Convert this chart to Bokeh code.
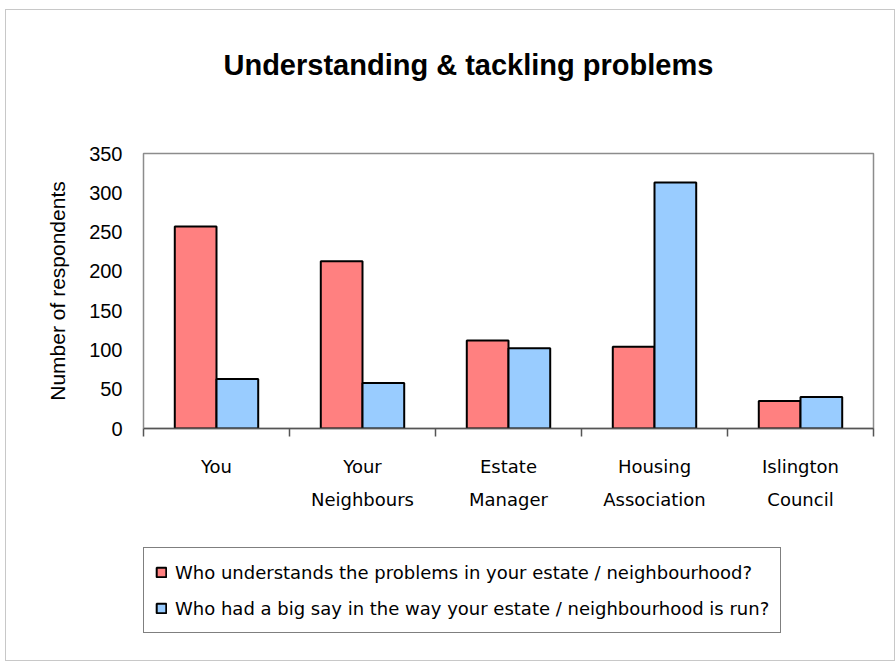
from bokeh.plotting import figure
from bokeh.layouts import column
from bokeh.models import (ColumnDataSource, Range1d, LinearAxis, FixedTicker,
                          Legend, LegendItem, Title)
from bokeh.embed import file_html
from bokeh.resources import INLINE
import numpy as np

categories = ["You", "Your\nNeighbours", "Estate\nManager", "Housing\nAssociation", "Islington\nCouncil"]
understands = [257, 213, 112, 104, 35]
big_say = [63, 58, 102, 313, 40]
series_names = ["Who understands the problems in your estate / neighbourhood?",
                "Who had a big say in the way your estate / neighbourhood is run?"]
y_ticks = [0, 50, 100, 150, 200, 250, 300, 350]
colors = ["#FF8080", "#99CCFF"]

FONT = "Liberation Sans"
FONT2 = "DejaVu Sans"
bar_w = 1 / 3.5
idx = np.arange(len(categories))
src = ColumnDataSource(dict(
    x1=idx + 0.5 - bar_w / 2, x2=idx + 0.5 + bar_w / 2,
    a=understands, b=big_say))

p = figure(width=888, height=530, output_backend="svg", toolbar_location=None,
           x_range=Range1d(0, len(categories)), y_range=Range1d(0, 350),
           x_axis_location=None, min_border_left=137, min_border_right=21,
           min_border_top=143, min_border_bottom=112)
p.outline_line_color = "#8c8c8c"
p.outline_line_width = 1.5
p.xgrid.visible = False
p.ygrid.visible = False

p.vbar(x="x1", top="a", width=bar_w, source=src, fill_color=colors[0],
       line_color="black", line_width=2)
p.vbar(x="x2", top="b", width=bar_w, source=src, fill_color=colors[1],
       line_color="black", line_width=2)

# y axis
ya = p.yaxis[0]
ya.ticker = FixedTicker(ticks=y_ticks)
ya.axis_line_color = "#8c8c8c"
ya.major_tick_line_color = None
ya.minor_tick_line_color = None
ya.major_label_standoff = 15
ya.major_label_text_font = FONT
ya.major_label_text_font_size = "20px"
ya.major_label_text_color = "black"
ya.axis_label = "Number of respondents"
ya.axis_label_text_font = FONT
ya.axis_label_text_font_size = "21px"
ya.axis_label_text_font_style = "normal"
ya.axis_label_text_color = "black"
ya.axis_label_standoff = 17

# x axis with boundary ticks
bticks = list(range(len(categories) + 1))
xt = LinearAxis(ticker=FixedTicker(ticks=bticks),
                major_label_overrides={b: "" for b in bticks},
                axis_line_color="#555555", axis_line_width=1.5,
                major_tick_line_color="#555555", major_tick_line_width=1.5,
                major_tick_out=8, major_tick_in=0,
                minor_tick_line_color=None,
                major_label_text_font_size="0px", major_label_standoff=0)
p.add_layout(xt, "below")

# x axis with category labels
xl = LinearAxis(ticker=FixedTicker(ticks=list(idx + 0.5)),
                major_label_overrides={float(i + 0.5): c for i, c in enumerate(categories)},
                axis_line_color=None, major_tick_line_color=None,
                minor_tick_line_color=None, major_label_standoff=13,
                major_label_text_font=FONT2, major_label_text_font_size="18px",
                major_label_text_color="black",
                major_label_text_line_height=1.6)
p.add_layout(xl, "below")

# spacer between title and plot frame
spacer = LinearAxis(ticker=FixedTicker(ticks=[0]), major_label_overrides={0: ""},
                    axis_line_color=None, major_tick_line_color=None,
                    minor_tick_line_color=None, major_tick_out=39, major_tick_in=0,
                    major_label_standoff=0, major_label_text_font_size="0px")
p.add_layout(spacer, "above")

t = Title(text="Understanding & tackling problems", align="left",
          text_font=FONT, text_font_size="29px", text_font_style="bold",
          text_color="black", offset=80, standoff=68)
p.add_layout(t, "above")

# legend panel (separate figure below the chart); its keys reuse the bar data
lp = figure(width=888, height=120, output_backend="svg", toolbar_location=None,
            x_range=Range1d(0, 1), y_range=Range1d(-2, -1),
            x_axis_location=None, y_axis_location=None,
            min_border_left=0, min_border_right=0, min_border_top=0, min_border_bottom=0)
lp.outline_line_color = None
lp.xgrid.visible = False
lp.ygrid.visible = False
k1 = lp.vbar(x="x1", top="a", width=bar_w, source=src, fill_color=colors[0],
             line_color="black", line_width=2, visible=False)
k2 = lp.vbar(x="x2", top="b", width=bar_w, source=src, fill_color=colors[1],
             line_color="black", line_width=2, visible=False)

legend = Legend(items=[LegendItem(label=series_names[0], renderers=[k1]),
                       LegendItem(label=series_names[1], renderers=[k2])],
                location=(0, 27), orientation="vertical",
                border_line_color="black", border_line_width=1.2,
                label_text_font=FONT2, label_text_font_size="18px",
                label_text_color="black", label_height=26,
                glyph_width=12, glyph_height=12, spacing=10,
                padding=11, margin=0, label_standoff=8,
                inactive_fill_alpha=0)
lp.add_layout(legend, "center")

layout = column(p, lp, spacing=0,
                styles={"border": "1px solid #c8c8c8", "margin-left": "5px", "margin-top": "9px"})

open("out.html", "w").write(file_html(layout, INLINE))
